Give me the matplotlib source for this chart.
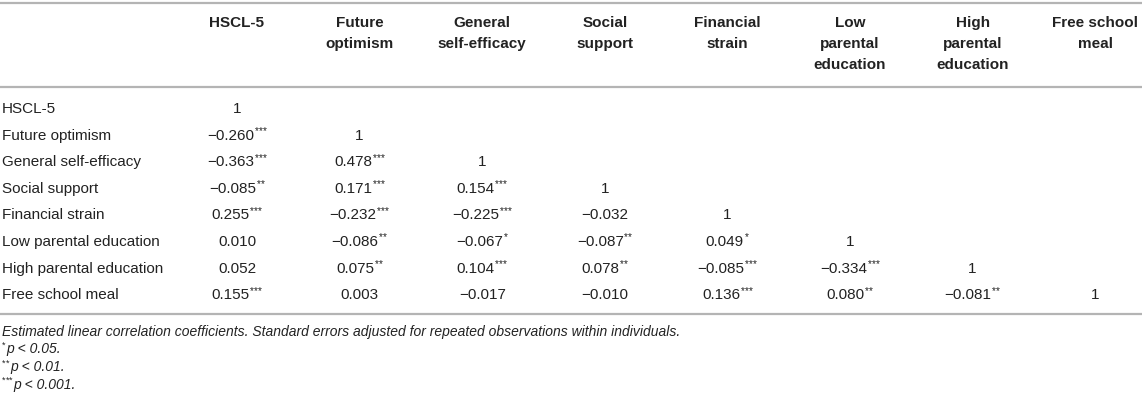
import numpy as np
import matplotlib.pyplot as plt

plt.rcParams['font.family'] = ['Liberation Sans', 'DejaVu Sans']

# variable names (rows and columns)
row_labels = ["HSCL-5", "Future optimism", "General self-efficacy", "Social support",
              "Financial strain", "Low parental education", "High parental education",
              "Free school meal"]
col_headers = ["HSCL-5", "Future\noptimism", "General\nself-efficacy", "Social\nsupport",
               "Financial\nstrain", "Low\nparental\neducation", "High\nparental\neducation",
               "Free school\nmeal"]

# lower triangle of the correlation matrix, row by row
corr = [
    [1],
    [-0.260, 1],
    [-0.363, 0.478, 1],
    [-0.085, 0.171, 0.154, 1],
    [0.255, -0.232, -0.225, -0.032, 1],
    [0.010, -0.086, -0.067, -0.087, 0.049, 1],
    [0.052, 0.075, 0.104, 0.078, -0.085, -0.334, 1],
    [0.155, 0.003, -0.017, -0.010, 0.136, 0.080, -0.081, 1],
]
# number of significance stars per cell
stars = [
    [0],
    [3, 0],
    [3, 3, 0],
    [2, 3, 3, 0],
    [3, 3, 3, 0, 0],
    [0, 2, 1, 2, 1, 0],
    [0, 2, 3, 2, 3, 3, 0],
    [3, 0, 0, 0, 3, 2, 2, 0],
]
note_text = "Estimated linear correlation coefficients. Standard errors adjusted for repeated observations within individuals."
note_stars = [1, 2, 3]
note_p = ["p < 0.05.", "p < 0.01.", "p < 0.001."]

W, H = 1142, 403
fig = plt.figure(figsize=(W / 100, H / 100), dpi=100)
ax = fig.add_axes([0, 0, 1, 1])
ax.set_xlim(0, W)
ax.set_ylim(H, 0)
ax.axis('off')
renderer = fig.canvas.get_renderer()

txt = '#222222'
rule = '#b4b4b4'
fs = 11

col_x = 237 + 122.6 * np.arange(len(col_headers))
row_y = 109 + 26.6 * np.arange(len(row_labels))


def width(t):
    return t.get_window_extent(renderer=renderer).width


def put(x, y, main, nst, ha='center', size=fs, style='normal', stars_first=False):
    # main text plus small raised asterisks, placed as one unit
    t_main = ax.text(0, y, main, ha='left', va='center', fontsize=size,
                     fontstyle=style, color=txt)
    w_main = width(t_main)
    step = size * 0.36
    w_st = step * nst + (1 if nst else 0)
    total = w_main + w_st
    x0 = x - total / 2 if ha == 'center' else x
    if stars_first:
        sx = x0
        t_main.set_x(x0 + w_st)
    else:
        t_main.set_x(x0)
        sx = x0 + w_main + 0.5
    for k in range(nst):
        ax.text(sx + step * (k + 0.5), y - size * 0.42, '*', ha='center',
                va='center', fontsize=size * 0.66, color=txt)


# rules
for yy in (3, 87, 314):
    ax.plot([0, W], [yy, yy], color=rule, lw=1.6, solid_capstyle='butt')

# header
for x, h in zip(col_x, col_headers):
    for k, line in enumerate(h.split('\n')):
        ax.text(x, 23 + 21 * k, line, ha='center', va='center', fontsize=fs,
                fontweight='bold', color=txt)

# body
for i, (lab, vals) in enumerate(zip(row_labels, corr)):
    ax.text(2, row_y[i], lab, ha='left', va='center', fontsize=fs, color=txt)
    for j, v in enumerate(vals):
        s = "1" if v == 1 else f"{v:.3f}".replace('-', '\u2212')
        put(col_x[j], row_y[i], s, stars[i][j])

# footnotes
ax.text(2, 332, note_text, ha='left', va='center', fontsize=10,
        fontstyle='italic', color=txt)
for k, (ns, p) in enumerate(zip(note_stars, note_p)):
    put(2, 349.5 + 17.6 * k, p, ns, ha='left', size=10, style='italic',
        stars_first=True)

fig.savefig('out.png', dpi=100)
